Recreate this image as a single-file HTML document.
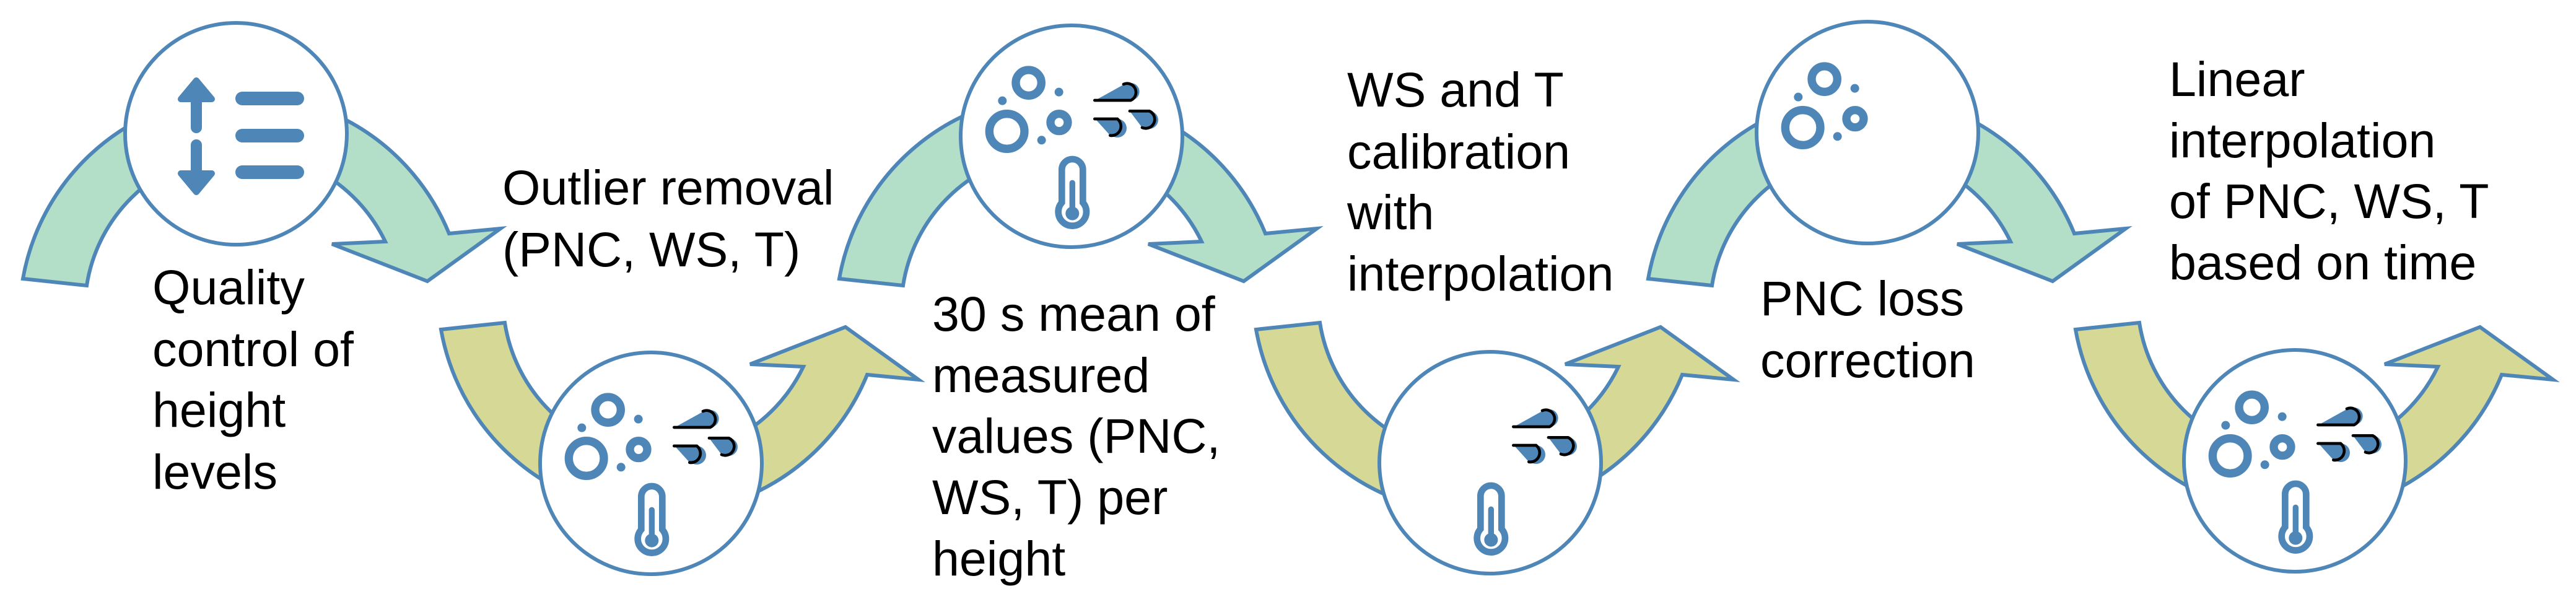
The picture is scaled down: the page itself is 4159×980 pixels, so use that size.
<!DOCTYPE html>
<html><head><meta charset="utf-8"><style>
html,body{margin:0;padding:0;background:#fff;}
svg{display:block;}
text{font-family:"Liberation Sans",sans-serif;font-size:79px;fill:#000;}
</style></head><body>
<svg width="4159" height="980" viewBox="0 0 4159 980" xmlns="http://www.w3.org/2000/svg">
<defs>
<path id="garr" d="M37,450 A360 360 0 0 1 725,377 L808,369 L690,454 L536,394 L622,390 A255 255 0 0 0 140,461 Z" stroke="#4f86b8" stroke-width="6" stroke-linejoin="miter"/>
<g id="parts">
 <circle cx="290" cy="660" r="85" fill="none" stroke="#4f86b8" stroke-width="40"/>
 <circle cx="395" cy="425" r="62" fill="none" stroke="#4f86b8" stroke-width="40"/>
 <circle cx="543" cy="617" r="42" fill="none" stroke="#4f86b8" stroke-width="40"/>
 <circle cx="268" cy="512" r="21" fill="#4f86b8"/>
 <circle cx="542" cy="470" r="21" fill="#4f86b8"/>
 <circle cx="458" cy="703" r="21" fill="#4f86b8"/>
</g>
<g id="wind">
 <circle cx="890" cy="468" r="42" fill="#4f86b8"/>
 <polygon points="718,510 862,430 890,510" fill="#4f86b8"/>
 <path d="M715,510 L890,510 A42 42 0 0 0 855,432" fill="none" stroke="#000" stroke-width="14" stroke-linecap="round"/>
 <circle cx="825" cy="645" r="45" fill="#4f86b8"/>
 <polygon points="718,600 825,600 790,680" fill="#4f86b8"/>
 <path d="M715,600 L825,600 A45 45 0 0 1 790,680" fill="none" stroke="#000" stroke-width="14" stroke-linecap="round"/>
 <circle cx="980" cy="605" r="43" fill="#4f86b8"/>
 <polygon points="885,562 980,562 945,642" fill="#4f86b8"/>
 <path d="M885,562 L980,562 A43 43 0 0 1 945,642" fill="none" stroke="#000" stroke-width="14" stroke-linecap="round"/>
</g>
<g id="therm">
 <path d="M556,1005 L556,846 A51 51 0 0 1 658,846 L658,1005 A68 68 0 1 1 556,1005 Z" fill="#fff" stroke="#4f86b8" stroke-width="32"/>
 <line x1="607" y1="910" x2="607" y2="1050" stroke="#4f86b8" stroke-width="28" stroke-linecap="round"/>
 <circle cx="607" cy="1058" r="33" fill="#4f86b8"/>
</g>
</defs>

<use href="#garr" fill="#b3dfc8"/>
<use href="#garr" fill="#b3dfc8" transform="translate(1318,0)"/>
<use href="#garr" fill="#b3dfc8" transform="translate(2624,0)"/>
<use href="#garr" fill="#d6d896" transform="translate(675,982) scale(1,-1)"/>
<use href="#garr" fill="#d6d896" transform="translate(1991,982) scale(1,-1)"/>
<use href="#garr" fill="#d6d896" transform="translate(3314,982) scale(1,-1)"/>

<g fill="#fff" stroke="#4f86b8" stroke-width="6">
<circle cx="381" cy="216" r="179"/>
<circle cx="1051" cy="748" r="179"/>
<circle cx="1730" cy="220" r="179"/>
<circle cx="2406" cy="747" r="179"/>
<circle cx="3015" cy="214" r="179"/>
<circle cx="3705" cy="744" r="179"/>
</g>

<g stroke="#4f86b8" fill="#4f86b8" stroke-linecap="round" stroke-linejoin="round">
 <line x1="317" y1="150" x2="317" y2="206" stroke-width="18"/>
 <polygon points="317,130 292,160 342,160" stroke-width="10"/>
 <line x1="317" y1="234" x2="317" y2="290" stroke-width="18"/>
 <polygon points="317,310 292,280 342,280" stroke-width="10"/>
 <line x1="391" y1="159" x2="480" y2="159" stroke-width="22"/>
 <line x1="391" y1="219" x2="480" y2="219" stroke-width="22"/>
 <line x1="391" y1="278" x2="480" y2="278" stroke-width="22"/>
</g>

<g transform="translate(850,520) scale(0.3333)"><use href="#parts"/><use href="#wind"/><use href="#therm"/></g>
<g transform="translate(1529,-8) scale(0.3333)"><use href="#parts"/><use href="#wind"/><use href="#therm"/></g>
<g transform="translate(2205,519) scale(0.3333)"><use href="#wind"/><use href="#therm"/></g>
<g transform="translate(2814,-14) scale(0.3333)"><use href="#parts"/></g>
<g transform="translate(3504,516) scale(0.3333)"><use href="#parts"/><use href="#wind"/><use href="#therm"/></g>

<text x="246" y="491">Quality</text>
<text x="246" y="591">control of</text>
<text x="246" y="689">height</text>
<text x="246" y="789">levels</text>

<text x="811" y="330">Outlier removal</text>
<text x="811" y="430">(PNC, WS, T)</text>

<text x="1505" y="534">30 s mean of</text>
<text x="1505" y="633">measured</text>
<text x="1505" y="731">values (PNC,</text>
<text x="1505" y="830">WS, T) per</text>
<text x="1505" y="929">height</text>

<text x="2175" y="172">WS and T</text>
<text x="2175" y="272">calibration</text>
<text x="2175" y="370">with</text>
<text x="2175" y="469">interpolation</text>

<text x="2842" y="509">PNC loss</text>
<text x="2842" y="609">correction</text>

<text x="3502" y="155">Linear</text>
<text x="3502" y="254">interpolation</text>
<text x="3502" y="352">of PNC, WS, T</text>
<text x="3502" y="451">based on time</text>
</svg>
</body></html>
